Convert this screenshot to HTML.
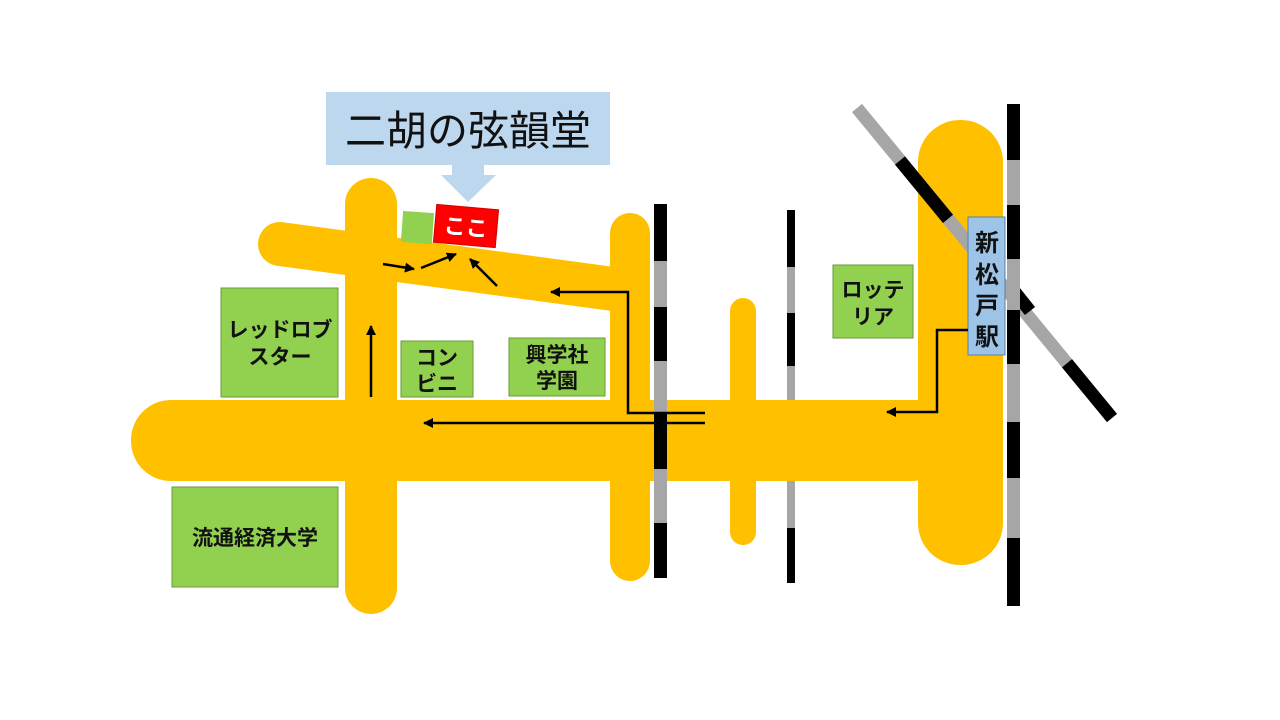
<!DOCTYPE html>
<html><head><meta charset="utf-8"><style>
html,body{margin:0;padding:0;background:#fff;}
svg{display:block;}
text{font-family:"Liberation Sans","Noto Sans CJK JP",sans-serif;font-weight:bold;fill:#111;}
</style></head><body>
<svg width="1280" height="720" viewBox="0 0 1280 720" xmlns="http://www.w3.org/2000/svg">
<defs>
<marker id="ah" markerWidth="10" markerHeight="10" refX="9" refY="5" orient="auto" markerUnits="userSpaceOnUse">
<path d="M0,0 L10,5 L0,10 z" fill="#000"/></marker>
</defs>
<line x1="791" y1="210" x2="791" y2="583" stroke="#a6a6a6" stroke-width="8"/>
<line x1="791" y1="210" x2="791" y2="583" stroke="#000" stroke-width="8" stroke-dasharray="57 46 53 162 55"/>
<g fill="#ffc000" stroke="none">
<rect x="131" y="400" width="820" height="81" rx="40"/>
<rect x="345" y="178" width="52" height="436" rx="26"/>
<line x1="280" y1="244" x2="628" y2="291" stroke="#ffc000" stroke-width="44" stroke-linecap="butt"/>
<circle cx="280" cy="244" r="22"/>
<rect x="610" y="213" width="40" height="368" rx="20"/>
<rect x="730" y="298" width="26" height="247" rx="13"/>
<rect x="918" y="120" width="85" height="445" rx="42"/>
<rect x="600" y="400" width="330" height="79"/>
</g>
<g stroke-width="13">
<line x1="857" y1="108" x2="1112" y2="418" stroke="#a6a6a6"/>
<line x1="900" y1="160.5" x2="948" y2="218.9" stroke="#000"/>
<line x1="1014" y1="291" x2="1030" y2="311" stroke="#000"/>
<line x1="1067" y1="363.3" x2="1112" y2="418" stroke="#000"/>
</g>
<rect x="654" y="204" width="13" height="374" fill="#a6a6a6"/>
<rect x="654" y="204" width="13" height="57" fill="#000"/>
<rect x="654" y="307" width="13" height="54" fill="#000"/>
<rect x="654" y="414" width="13" height="55" fill="#000"/>
<rect x="654" y="523" width="13" height="55" fill="#000"/>
<rect x="1007" y="104" width="13" height="502" fill="#a6a6a6"/>
<rect x="1007" y="104" width="13" height="56" fill="#000"/>
<rect x="1007" y="205" width="13" height="54" fill="#000"/>
<rect x="1007" y="310" width="13" height="54" fill="#000"/>
<rect x="1007" y="422" width="13" height="56" fill="#000"/>
<rect x="1007" y="538" width="13" height="68" fill="#000"/>
<g fill="#92d050" stroke="#6a9a3a" stroke-width="1">
<rect x="221" y="288" width="117" height="109"/>
<rect x="401" y="341" width="72" height="56"/>
<rect x="509" y="338" width="96" height="58"/>
<rect x="833" y="265" width="80" height="73"/>
<rect x="172" y="487" width="166" height="100"/>
</g>
<rect x="402" y="212" width="31" height="31" fill="#92d050" transform="rotate(4 417 227)"/>
<rect x="435" y="207" width="62" height="38" fill="#ff0000" stroke="#c00" transform="rotate(5 466 226)"/>
<text x="466" y="235" font-size="22" text-anchor="middle" style="fill:#fff" transform="rotate(5 466 226)">ここ</text>
<text x="280" y="337" font-size="21" text-anchor="middle">レッドロブ</text>
<text x="280" y="364" font-size="21" text-anchor="middle">スター</text>
<text x="437" y="365" font-size="21" text-anchor="middle">コン</text>
<text x="437" y="391" font-size="21" text-anchor="middle">ビニ</text>
<text x="557" y="362" font-size="21" text-anchor="middle">興学社</text>
<text x="557" y="388" font-size="21" text-anchor="middle">学園</text>
<text x="873" y="297" font-size="21" text-anchor="middle">ロッテ</text>
<text x="873" y="324" font-size="21" text-anchor="middle">リア</text>
<text x="255" y="545" font-size="21" text-anchor="middle">流通経済大学</text>
<rect x="968" y="217" width="37" height="138" fill="#9dc3e6" stroke="#5b7fa6" stroke-width="1"/>
<text x="987" y="251" font-size="24" text-anchor="middle">新</text>
<text x="987" y="283" font-size="24" text-anchor="middle">松</text>
<text x="987" y="314" font-size="24" text-anchor="middle">戸</text>
<text x="987" y="345" font-size="24" text-anchor="middle">駅</text>
<rect x="326" y="92" width="284" height="73" fill="#bdd7ee"/>
<polygon points="452,165 484,165 484,175 496,175 468,202 441,175 452,175" fill="#bdd7ee"/>
<text x="468" y="145" font-size="41" text-anchor="middle" style="font-weight:normal">二胡の弦韻堂</text>
<g stroke="#000" stroke-width="2.5" fill="none">
<line x1="371" y1="397" x2="371" y2="326" marker-end="url(#ah)"/>
<line x1="705" y1="423" x2="424" y2="423" marker-end="url(#ah)"/>
<polyline points="705,413 628,413 628,292 551,292" marker-end="url(#ah)"/>
<polyline points="968,330 937,330 937,412 887,412" marker-end="url(#ah)"/>
<line x1="383" y1="264" x2="414" y2="269" marker-end="url(#ah)"/>
<line x1="421" y1="268" x2="456" y2="254" marker-end="url(#ah)"/>
<line x1="497" y1="286" x2="470" y2="259" marker-end="url(#ah)"/>
</g>
</svg>
</body></html>
